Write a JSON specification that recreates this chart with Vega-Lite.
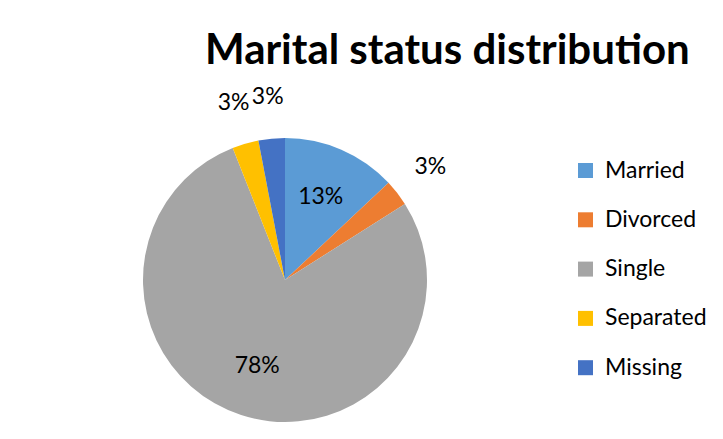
{
  "$schema": "https://vega.github.io/schema/vega-lite/v6.json",
  "width": 554,
  "height": 544,
  "autosize": {"type": "none"},
  "padding": {"left": 8, "top": 8, "right": 161, "bottom": 0},
  "background": "white",
  "title": {
    "text": "Marital status distribution",
    "anchor": "start",
    "frame": "group",
    "dx": 197,
    "dy": 98,
    "offset": 0,
    "baseline": "alphabetic",
    "font": "Lato",
    "fontSize": 42,
    "fontWeight": "bold",
    "color": "#000000"
  },
  "config": {
    "view": {"stroke": null},
    "text": {"font": "Lato", "fontSize": 23, "color": "#000000"}
  },
  "data": {
    "values": [
      {"status": "Married", "share": 0.13},
      {"status": "Divorced", "share": 0.03},
      {"status": "Single", "share": 0.78},
      {"status": "Separated", "share": 0.03},
      {"status": "Missing", "share": 0.03}
    ]
  },
  "transform": [
    {"window": [{"op": "row_number", "as": "idx"}]}
  ],
  "encoding": {
    "theta": {"field": "share", "type": "quantitative", "stack": true},
    "order": {"field": "idx", "type": "quantitative"}
  },
  "layer": [
    {
      "mark": {"type": "arc", "outerRadius": 142},
      "encoding": {
        "color": {
          "field": "status",
          "type": "nominal",
          "sort": ["Married", "Divorced", "Single", "Separated", "Missing"],
          "scale": {
            "domain": ["Married", "Divorced", "Single", "Separated", "Missing"],
            "range": ["#5B9BD5", "#ED7D31", "#A5A5A5", "#FFC000", "#4472C4"]
          },
          "legend": {
            "title": null,
            "orient": "none",
            "legendX": 566,
            "legendY": 151,
            "symbolType": "square",
            "symbolSize": 225,
            "symbolStrokeWidth": 0,
            "labelFont": "Lato",
            "labelFontSize": 23,
            "labelColor": "#000000",
            "rowPadding": 25.3,
            "labelOffset": 8
          }
        }
      }
    },
    {
      "mark": {"type": "text", "radius": 90},
      "encoding": {
        "text": {
          "condition": {"test": "datum.share > 0.05", "field": "share", "type": "quantitative", "format": ".0%"},
          "value": ""
        }
      }
    },
    {
      "mark": {"type": "text", "radius": 184},
      "encoding": {
        "text": {
          "condition": {"test": "datum.share <= 0.05", "field": "share", "type": "quantitative", "format": ".0%"},
          "value": ""
        }
      }
    }
  ]
}
